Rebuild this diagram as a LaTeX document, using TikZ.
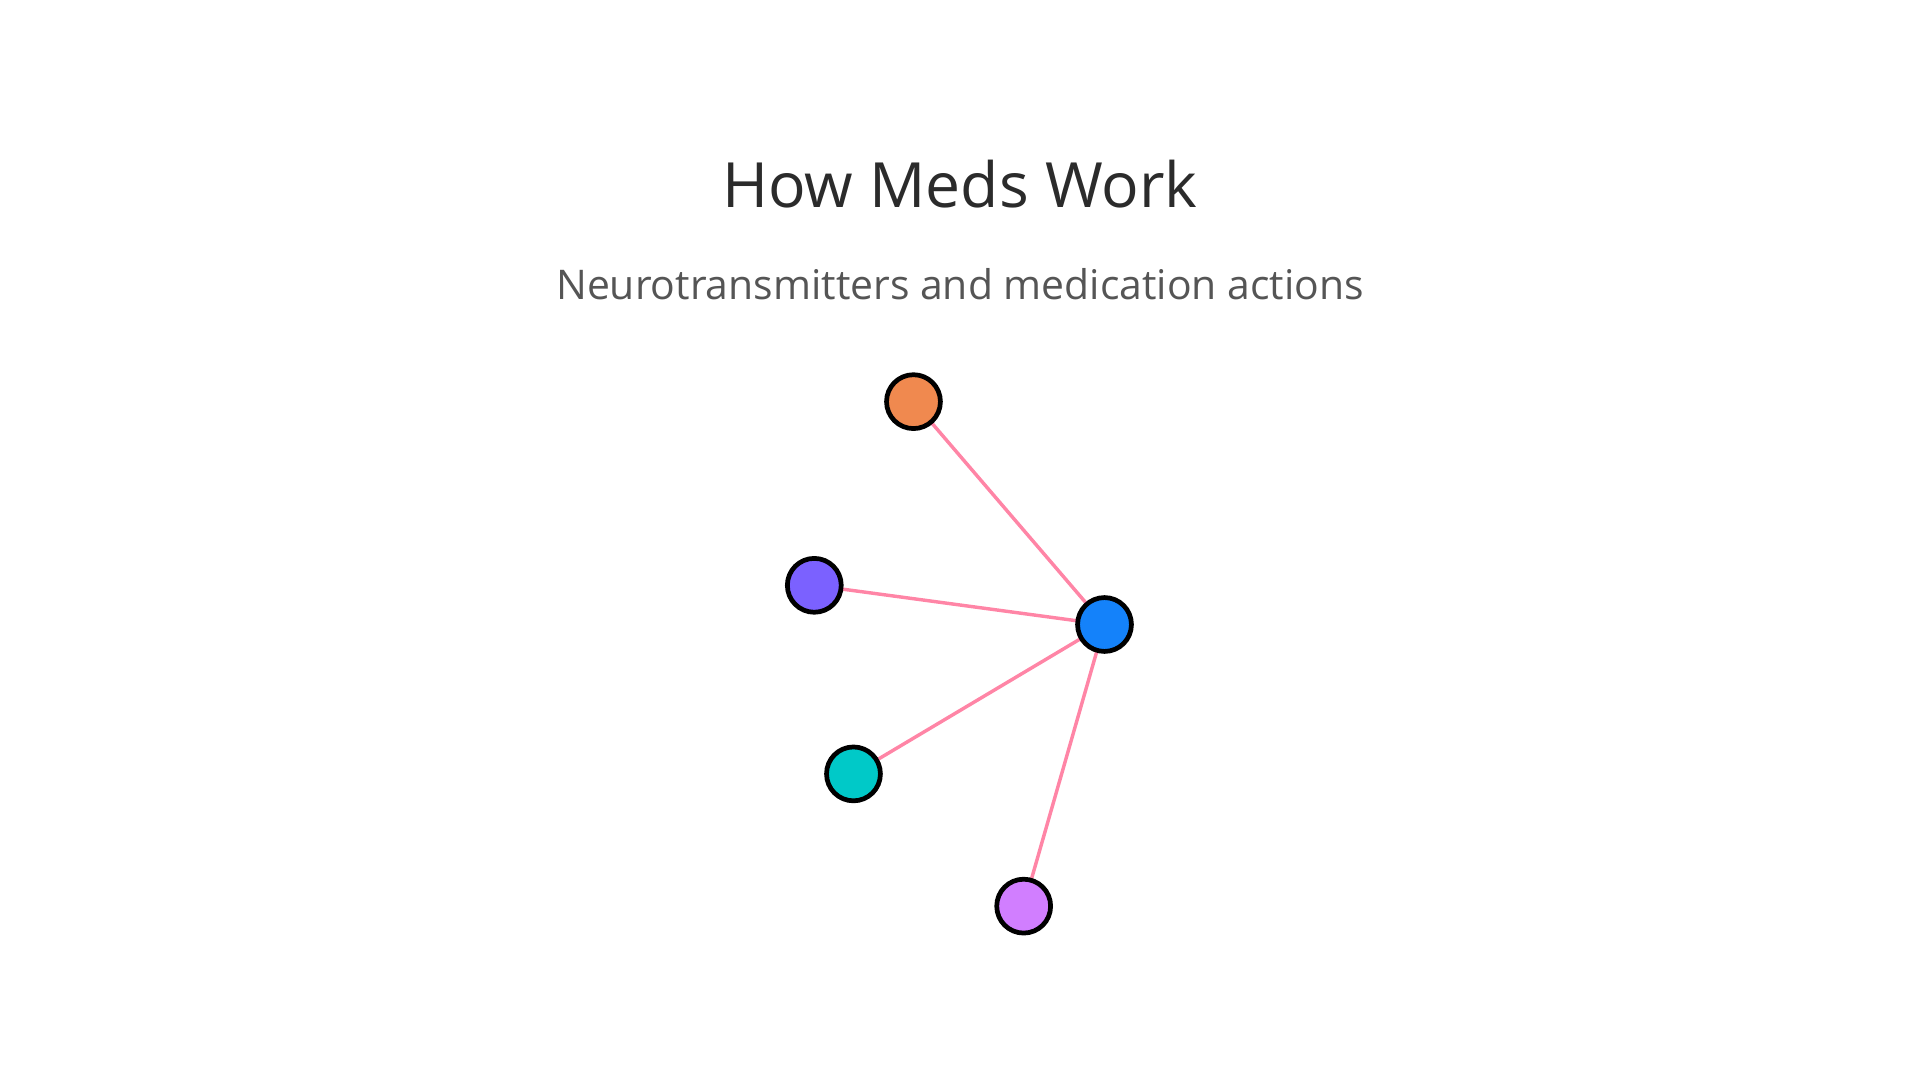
\documentclass[tikz,border=0pt]{standalone}
\usepackage{fontspec}
\setmainfont{Open Sans}
\usepackage{tikz}
\definecolor{titlegray}{HTML}{2B2B2B}
\definecolor{subgray}{HTML}{555555}
\definecolor{linkpink}{HTML}{FF85A6}
\definecolor{orangenode}{HTML}{F0894F}
\definecolor{violetnode}{HTML}{7B61FF}
\definecolor{bluenode}{HTML}{1482FA}
\definecolor{tealnode}{HTML}{00C9C8}
\definecolor{lilacnode}{HTML}{D17EFF}

\begin{document}
\begin{tikzpicture}
    \tikzstyle{dot}=[circle,draw=black,line width=1.1pt,minimum size=0.44cm,inner sep=0pt]
    \tikzstyle{link}=[draw=linkpink,line width=0.8pt]

    \useasboundingbox (0,0) rectangle (15.68,8.82);

    %% Titles
    \node[text=titlegray,font=\fontsize{14.5}{17}\selectfont] (title) at (7.84,7.32) {How Meds Work};
    \node[text=subgray,font=\fontsize{9.5}{12}\selectfont] (subtitle) at (7.84,6.50) {Neurotransmitters and medication actions};

    %% Links
    \foreach \n/\p in {orange/{7.46,5.54},violet/{6.65,4.04},teal/{6.97,2.50},lilac/{8.36,1.42}}
        \coordinate (c-\n) at (\p);
    \coordinate (c-hub) at (9.02,3.72);
    \foreach \n in {orange,violet,teal,lilac}
        \path[link] (c-hub) -- (c-\n);

    %% Nodes
    \node[dot,fill=bluenode] (hub) at (c-hub) {};
    \node[dot,fill=orangenode] (orange) at (c-orange) {};
    \node[dot,fill=violetnode] (violet) at (c-violet) {};
    \node[dot,fill=tealnode] (teal) at (c-teal) {};
    \node[dot,fill=lilacnode] (lilac) at (c-lilac) {};
\end{tikzpicture}
\end{document}
